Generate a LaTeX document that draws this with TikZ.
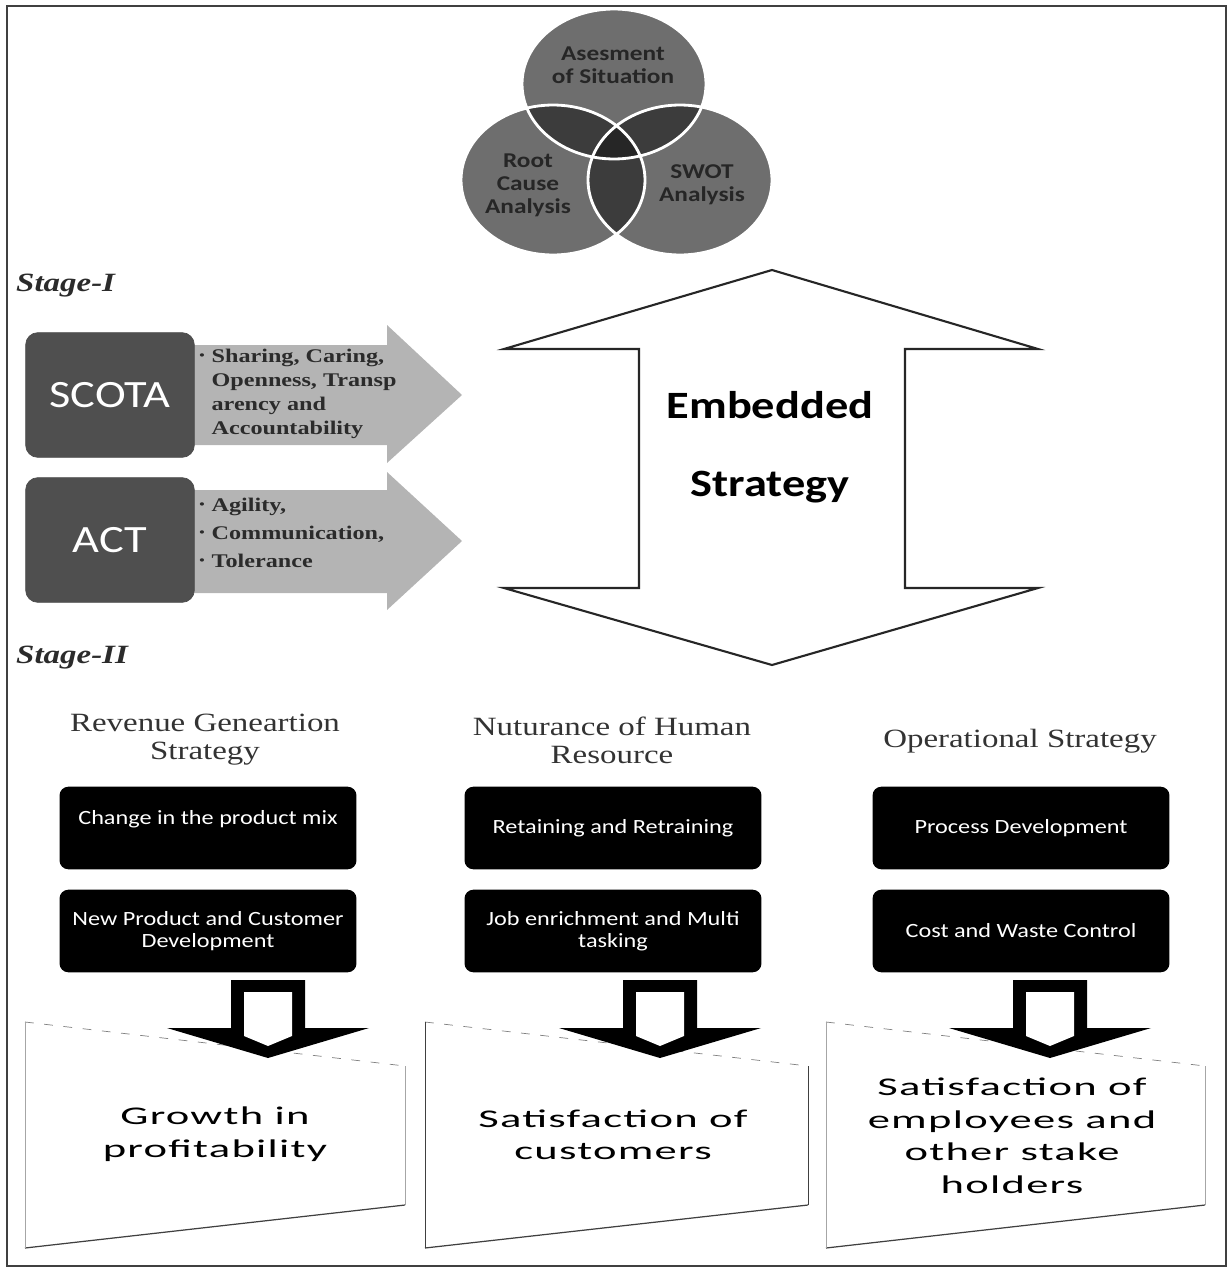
\documentclass[tikz,border=0pt]{standalone}
\usepackage{fontspec}
\usepackage{xcolor}
\usepackage{tikz}
\setmainfont{Liberation Serif}[FakeStretch=1.25]
\newfontfamily\calfont{Carlito}[FakeStretch=1.2]
\newfontfamily\widefont{Carlito}[FakeStretch=1.75,LetterSpace=5]
\definecolor{venngray}{HTML}{6E6E6E}
\definecolor{venndark}{HTML}{3C3C3C}
\definecolor{venncore}{HTML}{262626}
\definecolor{boxgray}{HTML}{4F4F4F}
\definecolor{arrowgray}{HTML}{B4B4B4}
\definecolor{inkgray}{HTML}{2B2B2B}
\newcommand{\bulit}{\makebox[7pt][l]{\raisebox{0.35ex}{\scriptsize\textbullet}}}
\newcommand{\bulpad}{\hspace*{7pt}}
\tikzset{
  vennsize/.style={x radius=1.84cm, y radius=1.5cm},
  venntxt/.style={align=center, text=black!85, font=\calfont\bfseries\fontsize{12}{13}\selectfont},
  stagelbl/.style={anchor=west, text=inkgray, font=\bfseries\itshape\fontsize{15}{17}\selectfont},
  keybox/.style={fill=boxgray, draw=black!70, rounded corners=7pt, minimum width=96pt,
    minimum height=71pt, text=white, font=\calfont\fontsize{22}{24}\selectfont},
  keyarrow/.style={fill=arrowgray},
  bullettxt/.style={anchor=west, align=left, text=inkgray, inner sep=0pt},
  embtxt/.style={font=\calfont\bfseries\fontsize{22}{24}\selectfont},
  colhead/.style={align=center, text=black!80, font=\fontsize{15}{16}\selectfont},
  blackbox/.style={fill=black, rounded corners=5pt, minimum width=169pt, minimum height=47pt,
    inner sep=2pt, align=center, text=white, font=\calfont\fontsize{11.5}{12.5}\selectfont},
  resulttxt/.style={align=center, text=black, font=\widefont\fontsize{14.5}{18.5}\selectfont}
}
\begin{document}
\begin{tikzpicture}[x=0.02cm, y=-0.02cm]
  \useasboundingbox (0,0) rectangle (1230,1271);
  \draw[line width=1pt, black!75] (7,6) rectangle (1226,1266);

  % three circles on top
  \coordinate (ctop) at (614,84);
  \coordinate (clft) at (553,180);
  \coordinate (crgt) at (680,180);
  \foreach \c in {ctop,clft,crgt}
    \fill[venngray] (\c) ellipse [vennsize];
  \foreach \a/\b in {ctop/clft, ctop/crgt, clft/crgt}{
    \begin{scope}
      \clip (\a) ellipse [vennsize];
      \fill[venndark] (\b) ellipse [vennsize];
    \end{scope}}
  \begin{scope}
    \clip (ctop) ellipse [vennsize];
    \clip (clft) ellipse [vennsize];
    \fill[venncore] (crgt) ellipse [vennsize];
  \end{scope}
  \foreach \c in {ctop,clft,crgt}
    \draw[white, line width=1.6pt] (\c) ellipse [vennsize];
  \node[venntxt] (asess) at (613,65) {Asesment\\of Situation};
  \node[venntxt] (rootc) at (528,185) {Root\\Cause\\Analysis};
  \node[venntxt] (swot) at (702,185) {SWOT\\Analysis};

  % stage I
  \node[stagelbl] (stage1) at (10,286) {Stage-I};
  \fill[keyarrow] (180,345) -- (387,345) -- (387,325) -- (462,395)
    -- (387,463) -- (387,445) -- (180,445) -- cycle;
  \fill[keyarrow] (180,490) -- (387,490) -- (387,472) -- (462,541)
    -- (387,610) -- (387,593) -- (180,593) -- cycle;
  \node[keybox] (scota) at (110,395) {SCOTA};
  \node[keybox] (act) at (110,540) {ACT};
  \node[bullettxt, font=\bfseries\fontsize{11}{13.8}\selectfont] (scotatxt) at (199,394)
    {\bulit Sharing, Caring,\\\bulpad Openness, Transp\\\bulpad arency and\\\bulpad Accountability};
  \node[bullettxt, font=\bfseries\fontsize{11}{16}\selectfont] (acttxt) at (199,533)
    {\bulit Agility,\\\bulit Communication,\\\bulit Tolerance};

  % double arrow
  \draw[line width=1.2pt, black!85, fill=white] (772,270) -- (1038,349) -- (905,349)
    -- (905,588) -- (1038,588) -- (772,665) -- (504,588) -- (639,588)
    -- (639,349) -- (504,349) -- cycle;
  \node[embtxt] (embed) at (770,405) {Embedded};
  \node[embtxt] (strat) at (770,487) {Strategy};

  % stage II
  \node[stagelbl] (stage2) at (10,658) {Stage-II};
  \node[colhead] (headrev) at (205,740) {Revenue Geneartion\\Strategy};
  \node[colhead] (headhr) at (612,740) {Nuturance of Human\\Resource};
  \node[colhead] (headop) at (1020,741) {Operational Strategy};

  \node[blackbox] (revA) at (208,828) {Change in the product mix\\\mbox{}};
  \node[blackbox] (revB) at (208,931) {New Product and Customer\\Development};
  \node[blackbox] (hrA) at (613,828) {Retaining and Retraining};
  \node[blackbox] (hrB) at (613,931) {Job enrichment and Multi\\tasking};
  \node[blackbox] (opA) at (1021,828) {Process Development};
  \node[blackbox] (opB) at (1021,931) {Cost and Waste Control};

  % result boxes
  \foreach \l/\r/\ec in {25/405/gray!70, 425/808/black!75, 826/1205/gray!70}{
    \fill[white] (\l,1022) -- (\r,1066) -- (\r,1205) -- (\l,1248) -- cycle;
    \draw[gray, dashed, dash pattern=on 5pt off 6pt] (\l,1022) -- (\r,1066);
    \draw[\ec] (\r,1066) -- (\r,1205);
    \draw[black!75, line width=0.7pt] (\r,1205) -- (\l,1248);
    \draw[\ec] (\l,1248) -- (\l,1022);
  }
  \foreach \cx in {268,660,1050}{
    \fill[black] (\cx-37,980) -- (\cx+37,980) -- (\cx+37,1028) -- (\cx+101,1028)
      -- (\cx,1058) -- (\cx-101,1028) -- (\cx-37,1028) -- cycle;
    \fill[white] (\cx-24,992) -- (\cx+24,992) -- (\cx+24,1036) -- (\cx,1046)
      -- (\cx-24,1036) -- cycle;
  }
  \node[resulttxt] (resrev) at (215,1134) {Growth in\\profitability};
  \node[resulttxt] (reshr) at (613,1135) {Satisfaction of\\customers};
  \node[resulttxt] (resop) at (1012,1136) {Satisfaction of\\employees and\\other stake\\holders};
\end{tikzpicture}
\end{document}
